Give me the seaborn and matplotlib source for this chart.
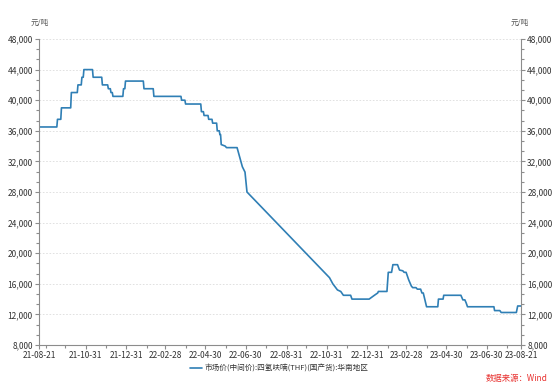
import matplotlib
matplotlib.use("Agg")
import matplotlib.pyplot as plt
import matplotlib.dates as mdates
from matplotlib.ticker import MultipleLocator, AutoMinorLocator, StrMethodFormatter, FixedLocator
import numpy as np
import pandas as pd
import seaborn as sns

line_color = "#2f7fb5"
axis_color = "#8c8c8c"
text_color = "#333333"

series_name = "市场价(中间价):四氢呋喃(THF)(国产货):华南地区"
unit_label = "元/吨"
source_label = "数据来源：Wind"

dates = [
    "2021-08-21", "2021-09-17", "2021-09-18", "2021-09-23", "2021-09-24", "2021-10-08",
    "2021-10-09", "2021-10-18", "2021-10-19", "2021-10-24", "2021-10-25", "2021-10-27",
    "2021-10-28", "2021-11-10", "2021-11-11", "2021-11-24", "2021-11-25", "2021-12-03",
    "2021-12-04", "2021-12-07", "2021-12-08", "2021-12-10", "2021-12-11", "2021-12-26",
    "2021-12-27", "2021-12-29", "2021-12-30", "2022-01-26", "2022-01-27", "2022-02-10",
    "2022-02-11", "2022-03-24", "2022-03-25", "2022-03-30", "2022-03-31", "2022-04-23",
    "2022-04-24", "2022-04-27", "2022-04-28", "2022-05-04", "2022-05-05", "2022-05-10",
    "2022-05-11", "2022-05-17", "2022-05-18", "2022-05-21", "2022-05-22", "2022-05-23",
    "2022-05-24", "2022-05-30", "2022-06-01", "2022-06-17", "2022-06-25", "2022-06-29",
    "2022-07-02", "2022-11-04", "2022-11-09", "2022-11-16", "2022-11-21", "2022-11-25",
    "2022-12-06", "2022-12-08", "2023-01-03", "2023-01-11", "2023-01-16", "2023-01-17",
    "2023-01-30", "2023-02-01", "2023-02-06", "2023-02-08", "2023-02-15", "2023-02-18",
    "2023-02-23", "2023-02-25", "2023-02-28", "2023-03-04", "2023-03-08", "2023-03-10",
    "2023-03-15", "2023-03-17", "2023-03-22", "2023-03-24", "2023-03-26", "2023-03-31",
    "2023-04-17", "2023-04-18", "2023-04-25", "2023-04-26", "2023-05-22", "2023-05-25",
    "2023-05-28", "2023-05-30", "2023-06-01", "2023-07-11", "2023-07-12", "2023-07-20",
    "2023-07-22", "2023-08-14", "2023-08-16", "2023-08-21",
]
prices = [
    36500, 36500, 37500, 37500, 39000, 39000,
    41000, 41000, 42000, 42000, 43000, 43000,
    44000, 44000, 43000, 43000, 42000, 42000,
    41500, 41500, 41000, 41000, 40500, 40500,
    41500, 41500, 42500, 42500, 41500, 41500,
    40500, 40500, 40000, 40000, 39500, 39500,
    38500, 38500, 38000, 38000, 37500, 37500,
    37000, 37000, 36000, 36000, 35500, 35500,
    34200, 34000, 33800, 33800, 31300, 30600,
    28000, 16800, 16000, 15200, 15000, 14500,
    14500, 14000, 14000, 14500, 14800, 15000,
    15000, 17500, 17500, 18500, 18500, 17800,
    17700, 17500, 17500, 16500, 15700, 15500,
    15500, 15300, 15300, 14800, 14800, 13000,
    13000, 14000, 14000, 14500, 14500, 13900,
    13900, 13500, 13000, 13000, 12500, 12500,
    12250, 12250, 13100, 13100,
]

x_tick_labels = ["21-08-21", "21-10-31", "21-12-31", "22-02-28", "22-04-30", "22-06-30",
                 "22-08-31", "22-10-31", "22-12-31", "23-02-28", "23-04-30", "23-06-30",
                 "23-08-21"]
y_min, y_max, y_step = 8000, 48000, 4000

sns.set_style("white")
plt.rcParams["font.family"] = ["Noto Sans CJK SC", "DejaVu Sans"]

fig = plt.figure(figsize=(5.54, 3.88), dpi=100)
ax = fig.add_axes([0.0704, 0.1108, 0.8700, 0.7887])

df = pd.DataFrame({"date": pd.to_datetime(dates), "price": prices})
sns.lineplot(data=df, x="date", y="price", ax=ax, color=line_color, lw=1.2,
             label=series_name, legend=False)

ax.set_xlim(df["date"].iloc[0], df["date"].iloc[-1])
ax.set_ylim(y_min, y_max)
ax.set_xlabel("")
ax.set_ylabel("")

# x axis: labelled dates + month-end minor ticks
tick_dates = pd.to_datetime(x_tick_labels, format="%y-%m-%d")
ax.xaxis.set_major_locator(FixedLocator(mdates.date2num(tick_dates)))
ax.xaxis.set_major_formatter(mdates.DateFormatter("%y-%m-%d"))
month_ends = pd.date_range(df["date"].iloc[0], df["date"].iloc[-1], freq="ME")
ax.xaxis.set_minor_locator(FixedLocator(mdates.date2num(month_ends)))

# y axis on both sides
ax.yaxis.set_major_locator(MultipleLocator(y_step))
ax.yaxis.set_minor_locator(AutoMinorLocator(3))
ax.yaxis.set_major_formatter(StrMethodFormatter("{x:,.0f}"))

ax.tick_params(axis="both", which="both", direction="out", color=axis_color,
               labelcolor=text_color, labelsize=6, width=0.8, pad=1.5)
ax.tick_params(which="major", length=3)
ax.tick_params(which="minor", length=2)
ax.tick_params(axis="y", which="both", left=True, right=True, labelleft=True, labelright=True)
ax.tick_params(axis="x", which="both", bottom=True)

ax.grid(axis="y", which="major", ls=(0, (2, 2)), color="#dcdcdc", lw=0.6)
ax.grid(axis="x", visible=False)
ax.spines["top"].set_visible(False)
for side in ["left", "right", "bottom"]:
    ax.spines[side].set_color(axis_color)
    ax.spines[side].set_linewidth(0.8)

fig.text(0.0722, 0.9407, unit_label, ha="center", va="center", fontsize=5.5, color="#555555")
fig.text(0.9386, 0.9407, unit_label, ha="center", va="center", fontsize=5.5, color="#555555")

handles, labels = ax.get_legend_handles_labels()
fig.legend(handles, labels, loc="center", bbox_to_anchor=(0.504, 0.049), frameon=False,
           fontsize=5.5, handlelength=1.6, handletextpad=0.4, labelcolor=text_color)

fig.text(0.989, 0.0232, source_label, ha="right", va="center", fontsize=6, color="#e8312f")

fig.savefig("out.png", dpi=100)
